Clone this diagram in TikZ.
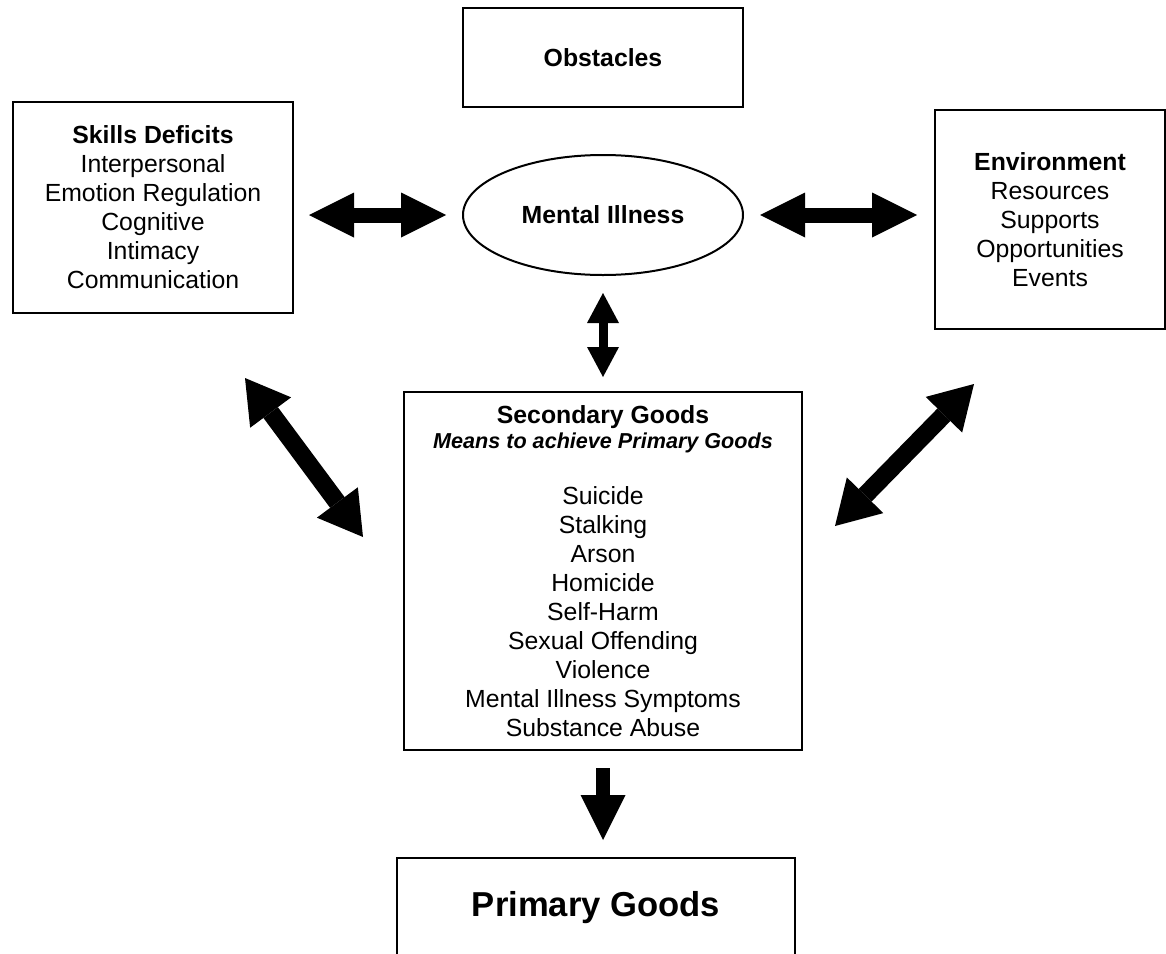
\documentclass[tikz,border=0pt]{standalone}
\usepackage{fontspec}
\setmainfont{Liberation Sans}
\usetikzlibrary{arrows.meta, shapes.geometric}

\newcommand{\bodyfont}{\fontsize{24.8}{29}\selectfont}
\newcommand{\subfont}{\fontsize{21.6}{25}\selectfont\bfseries\itshape}

\begin{document}
\begin{tikzpicture}[x=1pt, y=-1pt,
    box/.style={draw, line width=2pt, align=center, font=\bodyfont},
    bigarrow/.style={line width=15pt,
        {Triangle[length=45pt, width=45pt, line width=0pt]}-{Triangle[length=45pt, width=45pt, line width=0pt]}},
    diagarrow/.style={line width=18pt,
        {Triangle[length=43pt, width=51pt, line width=0pt]}-{Triangle[length=43pt, width=51pt, line width=0pt]}},
    smallarrow/.style={line width=9pt,
        {Triangle[length=30pt, width=32pt, line width=0pt]}-{Triangle[length=30pt, width=32pt, line width=0pt]}},
    downarrow/.style={line width=14pt,
        -{Triangle[length=45pt, width=45pt, line width=0pt]}}]
        \useasboundingbox (0,0) rectangle (1166,953);
        \clip (0,0) rectangle (1166,953);

        % Boxes
        \node[box, minimum width=280, minimum height=99] (obst) at (603,57.5)
            {\textbf{Obstacles}};
        \node[box, minimum width=280, minimum height=211] (skills) at (153,207.5)
            {\textbf{Skills Deficits}\\Interpersonal\\Emotion Regulation\\Cognitive\\Intimacy\\Communication};
        \node[box, minimum width=230, minimum height=219] (env) at (1050,219.5)
            {\textbf{Environment}\\Resources\\Supports\\Opportunities\\Events};
        \node[draw, ellipse, line width=2pt, minimum width=280, minimum height=120,
              font=\bodyfont\bfseries] (ment) at (603,215) {Mental Illness};
        \node[box, minimum width=398, minimum height=358] (sgood) at (603,571)
            {\textbf{Secondary Goods}\\[-4pt]{\subfont Means to achieve Primary Goods}\\[27.7pt]
             Suicide\\Stalking\\Arson\\Homicide\\Self-Harm\\Sexual Offending\\Violence\\
             Mental Illness Symptoms\\Substance Abuse};
        \node[box, anchor=north, minimum width=398, inner sep=8pt, text height=50pt,
              text depth=70pt, font=\fontsize{34.6}{40}\selectfont\bfseries] (pgood) at (596,857)
            {Primary Goods};

        % Ends of the slanted arrows
        \coordinate (sk-tip) at (245,378);
        \coordinate (sg-left) at (363,537);
        \coordinate (env-tip) at (974,384);
        \coordinate (sg-right) at (835,526);

        % Arrows
        \draw[bigarrow, shorten <=15pt, shorten >=16pt] (skills.east |- ment.west) -- (ment.west);
        \draw[bigarrow, shorten <=16pt, shorten >=17pt] (ment.east) -- (env.west |- ment.east);
        \draw[smallarrow, shorten <=17pt, shorten >=14pt] (ment.south) -- (ment.south |- sgood.north);
        \draw[downarrow, shorten <=17pt, shorten >=17pt] (sgood.south) -- (sgood.south |- pgood.north);
        \draw[diagarrow] (sk-tip) -- (sg-left);
        \draw[diagarrow] (env-tip) -- (sg-right);
\end{tikzpicture}
\end{document}
